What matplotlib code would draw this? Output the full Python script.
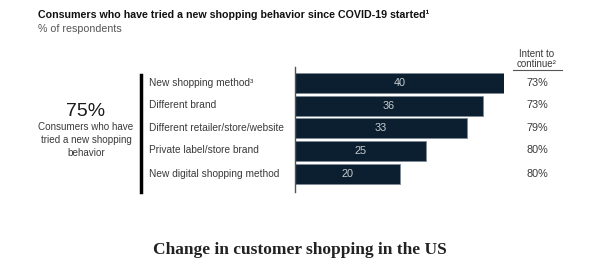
import matplotlib
matplotlib.use("Agg")
import matplotlib.pyplot as plt
from matplotlib.lines import Line2D

# data
categories = [
    "New shopping method\u00b3",
    "Different brand",
    "Different retailer/store/website",
    "Private label/store brand",
    "New digital shopping method",
]
share_tried = [40, 36, 33, 25, 20]
intent_to_continue = ["73%", "73%", "79%", "80%", "80%"]

W, H = 600, 275
BAR = "#0b1f30"
GREY = "#3a3a3a"
SANS = ["Liberation Sans", "DejaVu Sans"]

plt.rcParams["font.family"] = SANS

fig = plt.figure(figsize=(W / 100, H / 100), dpi=100)


def fx(px):
    return px / W


def fy(py):
    return 1 - py / H


# bar axes: left spine at x=294, 40 ends at x~504; vertical span y=67..192
ax = fig.add_axes([fx(295), fy(192), fx(504 - 295), (192 - 67) / H])
pos = list(range(len(categories)))
ax.barh(pos, share_tried, height=0.88, color=BAR, edgecolor="#7d8a96", linewidth=0.6)
ax.set_xlim(0, 40)
ax.set_ylim(4.8, -0.7)
for s in ["top", "right", "bottom"]:
    ax.spines[s].set_visible(False)
ax.spines["left"].set_color("#555555")
ax.spines["left"].set_linewidth(1.0)
ax.set_xticks([])
ax.set_yticks([])
for p, v in zip(pos, share_tried):
    ax.text(v / 2, p, str(v), ha="center", va="center", color="#c8ccd0", fontsize=7.8)

# category labels left of the bars
label_y = [83, 105, 128, 150, 174]
for lab, y in zip(categories, label_y):
    fig.text(fx(149), fy(y), lab, ha="left", va="center", fontsize=7.25, color=GREY)

# intent-to-continue column
for val, y in zip(intent_to_continue, label_y):
    fig.text(fx(537), fy(y), val, ha="center", va="center", fontsize=7.8, color=GREY)
fig.text(fx(537), fy(54), "Intent to", ha="center", va="center", fontsize=7, color=GREY)
fig.text(fx(537), fy(64), "continue\u00b2", ha="center", va="center", fontsize=7, color=GREY)
fig.add_artist(Line2D([fx(513), fx(562)], [fy(70), fy(70)], color="#555555", lw=0.8))

# black separator bar
fig.add_artist(Line2D([fx(141), fx(141)], [fy(75), fy(192)], color="black", lw=2.5))

# 75% callout
fig.text(fx(86), fy(112), "75%", ha="center", va="center", fontsize=14, color="#1a1a1a")
for line, y in zip(["Consumers who have", "tried a new shopping", "behavior"], [127, 140, 153]):
    fig.text(fx(86), fy(y), line, ha="center", va="center", fontsize=7.1, color=GREY)

# titles
fig.text(fx(38), fy(15), "Consumers who have tried a new shopping behavior since COVID-19 started\u00b9",
         ha="left", va="center", fontsize=7.7, fontweight="bold", color="#111111")
fig.text(fx(38), fy(29), "% of respondents", ha="left", va="center", fontsize=7.7, color="#555555")

# caption
fig.text(0.5, fy(250), "Change in customer shopping in the US", ha="center", va="center",
         fontsize=12.5, fontweight="bold", color="#222222",
         family=["Liberation Serif", "DejaVu Serif"])

fig.savefig("out.png", dpi=100)
